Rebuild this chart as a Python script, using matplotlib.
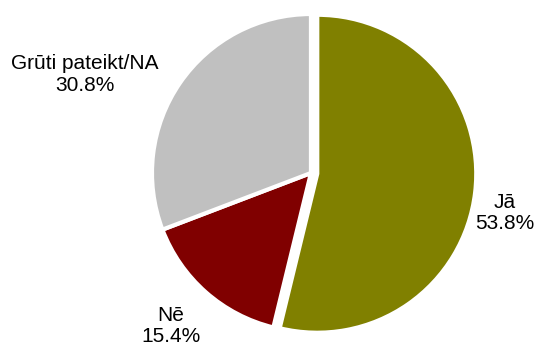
import matplotlib
matplotlib.use("Agg")
import matplotlib.pyplot as plt

categories = ["Jā", "Nē", "Grūti pateikt/NA"]
values = [53.8, 15.4, 30.8]
colors = ["#808000", "#800000", "#C0C0C0"]
explode = [0.04, 0.0, 0.0]

# label layout (data units, pie radius = 1)
label_pos = [(1.22, -0.25), (-0.88, -0.962), (-1.42, 0.62)]

plt.rcParams['font.family'] = ['Liberation Sans', 'DejaVu Sans']

fig = plt.figure(figsize=(5.41, 3.49), dpi=100)
ax = fig.add_axes([0, 0, 1, 1])
ax.pie(values, colors=colors, explode=explode, startangle=90, counterclock=False,
       radius=1.0, wedgeprops=dict(edgecolor="white", linewidth=3))

for name, v, (x, y) in zip(categories, values, label_pos):
    ax.text(x, y, f"{name}\n{v:.1f}%", ha="center", va="center", fontsize=15,
            color="black", linespacing=1.15)

ax.set_aspect("equal")
ax.set_xlim(-1.956, 1.447)
ax.set_ylim(-1.107, 1.088)
ax.axis("off")
fig.savefig("out.png", dpi=100)
